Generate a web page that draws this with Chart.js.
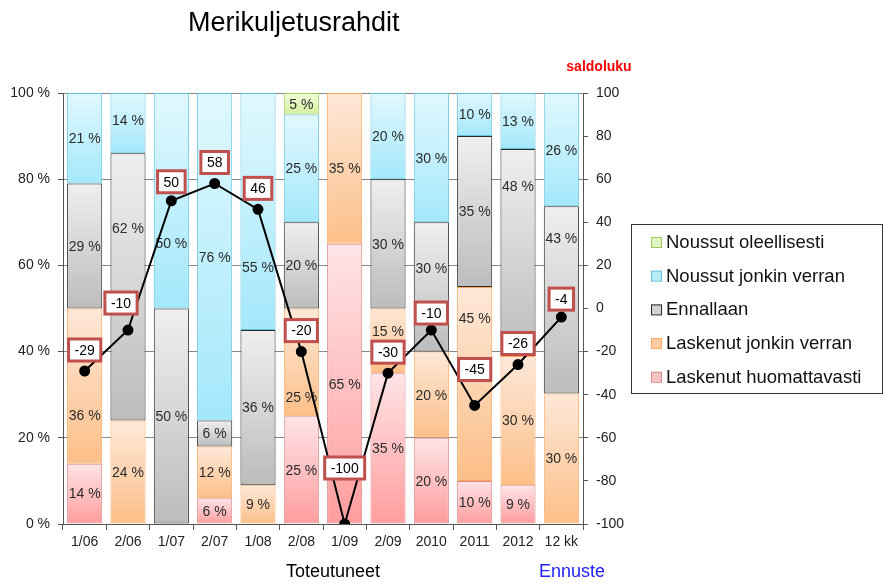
<!DOCTYPE html>
<html>
<head>
<meta charset="utf-8">
<script src="https://cdn.jsdelivr.net/npm/chart.js@4/dist/chart.umd.min.js"></script>
<style>
  html, body { margin: 0; padding: 0; background: #fff; }
  #wrap { width: 885px; height: 583px; }
</style>
</head>
<body>
<div id="wrap"><canvas id="chart" width="885" height="583"></canvas></div>
<script>
/* Kategoriat */
const periods = ["1/06", "2/06", "1/07", "2/07", "1/08", "2/08", "1/09", "2/09", "2010", "2011", "2012", "12 kk"];

/* Osuudet (%) alhaalta ylos */
const laskenutHuomattavasti = [14, 0, 0, 6, 0, 25, 65, 35, 20, 10, 9, 0];
const laskenutJonkin = [36, 24, 0, 12, 9, 25, 35, 15, 20, 45, 30, 30.3];
const ennallaan = [29, 62, 50, 6, 36, 20, 0, 30, 30, 35, 48, 43.4];
const noussutJonkin = [21, 14, 50, 76, 55, 25, 0, 20, 30, 10, 13, 26.3];
const noussutOleellisesti = [0, 0, 0, 0, 0, 5, 0, 0, 0, 0, 0, 0];

/* Saldoluku (oikea akseli) */
const saldoluku = [-29, -10, 50, 58, 46, -20, -100, -30, -10, -45, -26, -4];

const FONT = "Arial, 'Liberation Sans', sans-serif";

/* Sarjojen varit: [ylavari, alavari, reuna, selite] */
const styles = {
  pink: ["#ffe4e7", "#ff9d9d", "#d88a8a", "#f7c3c3"],
  orange: ["#fee8d8", "#fcbf88", "#f8a860", "#fccca4"],
  gray: ["#efefef", "#bcbcbc", "#2a2a2a", "#d2d2d2"],
  cyan: ["#e0f8fe", "#a4e8fb", "#62c2dc", "#b8ecf8"],
  green: ["#f2fcdc", "#d3f19e", "#9cc85c", "#e0f6c0"],
};

// liukuvari jokaiselle palkin osalle erikseen
const gradientFill = (top, bottom) => (ctx) => {
  const chart = ctx.chart;
  const y = chart.scales.y;
  if (!chart.chartArea || !y || ctx.type !== "data") return bottom;
  let start = 0;
  for (let d = 0; d < ctx.datasetIndex; d++) {
    start += chart.data.datasets[d].data[ctx.dataIndex] || 0;
  }
  const v = ctx.raw || 0;
  const y0 = y.getPixelForValue(start);
  const y1 = y.getPixelForValue(start + v);
  if (Math.abs(y0 - y1) < 1) return bottom;
  const g = chart.ctx.createLinearGradient(0, y1, 0, y0);
  g.addColorStop(0, top);
  g.addColorStop(1, bottom);
  return g;
};

const barSet = (label, data, st) => ({
  type: "bar",
  label: label,
  data: data,
  yAxisID: "y",
  order: 1,
  backgroundColor: gradientFill(st[0], st[1]),
  borderColor: st[2],
  borderWidth: 1,
  borderSkipped: false,
  barPercentage: 0.81,
  categoryPercentage: 1,
  legendColor: st[3],
});

// kasin siirretyt prosenttiotsakkeet (sarja:kohta -> siirto px)
const labelShift = {
  "1:0": 29, "1:5": 35, "1:7": -10, "1:9": -66,
  "2:1": -59, "2:8": -19, "2:10": -66, "2:11": -62,
  "3:1": -3, "3:2": 42, "3:4": 56,
};

// saldolukulaatikoiden nosto pisteen ylapuolelle [nosto, x-siirto]
const boxLift = { 1: [27, -7], 2: [19, 0], 6: [56, 0], 9: [36, 0], 8: [17, 0], 11: [18, 0] };

const decor = {
  id: "decor",
  beforeDatasetDraw(chart, args) {
    if (args.meta.type !== "line") return;
    const c = chart.ctx;
    c.save();
    c.font = "14px " + FONT;
    c.fillStyle = "#2b2b2b";
    c.textAlign = "center";
    c.textBaseline = "middle";
    chart.data.datasets.forEach((ds, i) => {
      if (ds.type !== "bar") return;
      const meta = chart.getDatasetMeta(i);
      meta.data.forEach((el, j) => {
        const v = ds.data[j];
        if (!v) return;
        const dy = labelShift[i + ":" + j] || 0;
        c.fillText(Math.round(v) + " %", el.x, (el.y + el.base) / 2 + 1 + dy);
      });
    });
    c.restore();
  },
  afterDatasetsDraw(chart) {
    const c = chart.ctx;
    const idx = chart.data.datasets.findIndex((d) => d.type === "line");
    const meta = chart.getDatasetMeta(idx);
    c.save();
    c.font = "14px " + FONT;
    c.textAlign = "center";
    c.textBaseline = "middle";
    meta.data.forEach((pt, j) => {
      const txt = String(saldoluku[j]);
      const lift = boxLift[j] || [21, 0];
      const cx = pt.x + lift[1];
      const cy = pt.y - lift[0];
      const w = c.measureText(txt).width + 12;
      const h = 22;
      c.fillStyle = "#fff";
      c.fillRect(cx - w / 2, cy - h / 2, w, h);
      c.strokeStyle = "#c0504d";
      c.lineWidth = 3;
      c.strokeRect(cx - w / 2, cy - h / 2, w, h);
      c.fillStyle = "#000";
      c.fillText(txt, cx, cy + 1);
    });
    c.restore();
  },
  afterDraw(chart) {
    const c = chart.ctx;
    c.save();
    // otsikko
    c.fillStyle = "#000";
    c.font = "27px " + FONT;
    c.textAlign = "left";
    c.textBaseline = "alphabetic";
    c.fillText("Merikuljetusrahdit", 188, 31);
    // oikean akselin nimi
    c.fillStyle = "#ff0000";
    c.font = "bold 14px " + FONT;
    c.textAlign = "center";
    c.textBaseline = "middle";
    c.fillText("saldoluku", 599, 67);
    // x-akselin nimet
    c.font = "18px " + FONT;
    c.fillStyle = "#000";
    c.fillText("Toteutuneet", 333, 572);
    c.fillStyle = "#2222ff";
    c.fillText("Ennuste", 572, 572);
    // selite
    c.fillStyle = "#fff";
    c.fillRect(631, 224, 251, 169);
    c.strokeStyle = "#333";
    c.lineWidth = 1;
    c.strokeRect(631.5, 224.5, 251, 169);
    c.font = "18.5px " + FONT;
    c.textAlign = "left";
    const bars = chart.data.datasets.filter((d) => d.type === "bar").reverse();
    bars.forEach((ds, k) => {
      const y = 242 + k * 33.7;
      c.fillStyle = ds.legendColor;
      c.fillRect(651, y - 5, 10, 10);
      c.strokeStyle = ds.borderColor;
      c.strokeRect(651.5, y - 4.5, 10, 10);
      c.fillStyle = "#111";
      c.fillText(ds.label, 666, y + 1);
    });
    c.restore();
  },
};

const data = {
  labels: periods,
  datasets: [
    barSet("Laskenut huomattavasti", laskenutHuomattavasti, styles.pink),
    barSet("Laskenut jonkin verran", laskenutJonkin, styles.orange),
    barSet("Ennallaan", ennallaan, styles.gray),
    barSet("Noussut jonkin verran", noussutJonkin, styles.cyan),
    barSet("Noussut oleellisesti", noussutOleellisesti, styles.green),
    {
      type: "line",
      label: "Saldoluku",
      data: saldoluku,
      yAxisID: "yR",
      order: 0,
      borderColor: "#000",
      borderWidth: 2,
      tension: 0,
      pointRadius: 4.5,
      pointBackgroundColor: "#000",
      pointBorderColor: "#000",
    },
  ],
};

const config = {
  data: data,
  options: {
    responsive: false,
    animation: false,
    layout: { padding: { top: 93, bottom: 29, left: 0, right: 0 } },
    plugins: {
      legend: { display: false },
      tooltip: { enabled: false },
      title: { display: false },
    },
    scales: {
      x: {
        stacked: true,
        offset: true,
        grid: { offset: true, drawOnChartArea: false, tickLength: 6, color: "#555" },
        border: { color: "#555" },
        ticks: { font: { family: FONT, size: 14 }, color: "#222", padding: 4 },
        afterFit: (s) => { s.height = 30; },
      },
      y: {
        stacked: true,
        position: "left",
        min: 0,
        max: 100,
        ticks: {
          stepSize: 20,
          callback: (v) => v + " %",
          font: { family: FONT, size: 14 },
          color: "#222",
          padding: 8,
        },
        grid: { color: "#888", tickColor: "#555", tickLength: 5 },
        border: { color: "#555" },
        afterFit: (s) => { s.width = 63; },
      },
      yR: {
        position: "right",
        min: -100,
        max: 100,
        ticks: {
          stepSize: 20,
          font: { family: FONT, size: 14 },
          color: "#222",
          padding: 8,
        },
        grid: { drawOnChartArea: false, tickColor: "#555", tickLength: 5 },
        border: { color: "#555" },
        afterFit: (s) => { s.width = 302; },
      },
    },
  },
  plugins: [decor],
};

new Chart(document.getElementById("chart").getContext("2d"), config);
</script>
</body>
</html>
